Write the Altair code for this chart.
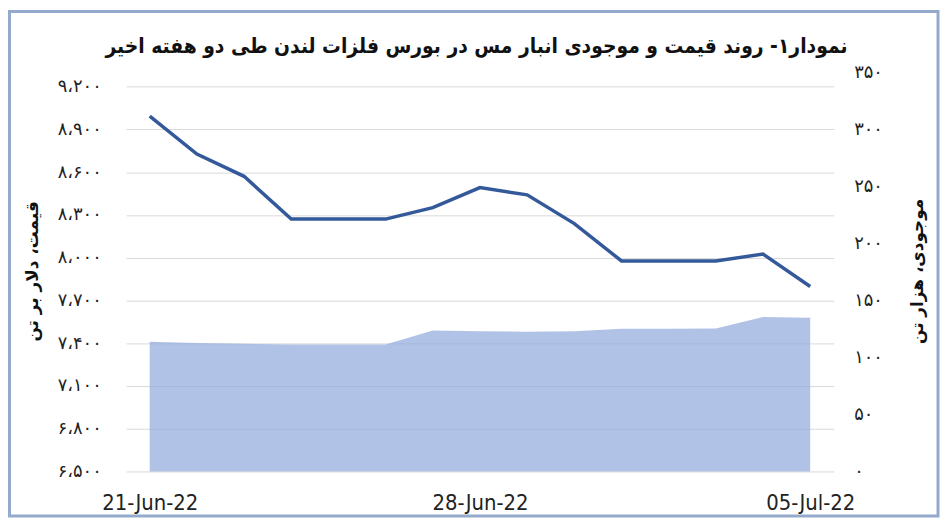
import altair as alt
import pandas as pd

# ---- data ----
dates = ["21-Jun-22", "22-Jun-22", "23-Jun-22", "24-Jun-22", "25-Jun-22",
         "26-Jun-22", "27-Jun-22", "28-Jun-22", "29-Jun-22", "30-Jun-22",
         "01-Jul-22", "02-Jul-22", "03-Jul-22", "04-Jul-22", "05-Jul-22"]
price = [8994, 8727, 8571, 8271, 8271, 8271, 8351, 8492, 8441, 8239,
         7977, 7977, 7977, 8025, 7798]
stock = [113.8, 112.7, 112.0, 111.4, 111.4, 111.4, 123.6, 123.0, 122.5, 123.0,
         125.1, 125.1, 125.4, 135.5, 134.9]

x_tick_labels = ["21-Jun-22", "28-Jun-22", "05-Jul-22"]
price_ticks = [6500, 6800, 7100, 7400, 7700, 8000, 8300, 8600, 8900, 9200]
stock_ticks = [0, 50, 100, 150, 200, 250, 300, 350]

title_text = "نمودار۱- روند قیمت و موجودی انبار مس در بورس فلزات لندن طی دو هفته اخیر"
left_title = "قیمت، دلار بر تن"
right_title = "موجودی، هزار تن"

df = pd.DataFrame({"date": dates, "price": price, "stock": stock})


def fa_digits_expr(src):
    e = f"replace({src}, regexp(',', 'g'), '،')"
    for d, fa in zip("0123456789", "۰۱۲۳۴۵۶۷۸۹"):
        e = f"replace({e}, regexp('{d}', 'g'), '{fa}')"
    return e


FA = "DejaVu Sans"
FA_TITLE = "DejaVu Sans Condensed, DejaVu Sans"
LAT = "Liberation Sans Narrow, DejaVu Sans Condensed, Lato, sans-serif"

x_enc = alt.X(
    "date:N", sort=dates, title=None,
    scale=alt.Scale(type="point", padding=0.5),
    axis=alt.Axis(values=x_tick_labels, labelAngle=0, ticks=False, domain=False,
                  grid=False, labelFont=LAT, labelFontSize=22, labelColor="#222222",
                  labelPadding=21),
)

area = alt.Chart(df).mark_area(color="#8FA9DC", opacity=0.7).encode(
    x=x_enc,
    y=alt.Y("stock:Q", scale=alt.Scale(domain=[0, 350], nice=False, zero=True),
            axis=alt.Axis(orient="right", values=stock_ticks, grid=False, ticks=False,
                          domain=False, labelFont=FA, labelFontSize=18,
                          labelColor="#222222", labelPadding=20,
                          labelExpr=fa_digits_expr("format(datum.value, ',')"),
                          title=right_title, titleFont=FA, titleFontSize=17,
                          titleFontWeight="bold", titleColor="#111111",
                          titleAngle=270, titleAlign="center", titleBaseline="middle",
                          titleX=84, titleY=200)),
)

line = alt.Chart(df).mark_line(color="#34599A", strokeWidth=3.5).encode(
    x=x_enc,
    y=alt.Y("price:Q", scale=alt.Scale(domain=[6500, 9300], nice=False, zero=False),
            axis=alt.Axis(orient="left", values=price_ticks, grid=True,
                          gridColor="#D9D9D9", gridWidth=1, ticks=False, domain=False,
                          labelFont=FA, labelFontSize=18, labelColor="#222222",
                          labelPadding=25,
                          labelExpr=fa_digits_expr("format(datum.value, ',')"),
                          title=left_title, titleFont=FA, titleFontSize=17,
                          titleFontWeight="bold", titleColor="#111111",
                          titleAngle=270, titleAlign="center", titleBaseline="middle",
                          titleX=-94, titleY=200)),
)

border = alt.Chart(pd.DataFrame({"k": [0]})).mark_rect(
    filled=False, stroke="#94AACC", strokeWidth=3
).encode(
    x=alt.value(-117.5), x2=alt.value(818), y=alt.value(-61.5), y2=alt.value(447)
)

title = alt.Chart(pd.DataFrame({"t": [title_text]})).mark_text(
    font=FA_TITLE, fontSize=21, fontWeight="bold", color="#111111",
    align="center", baseline="middle"
).encode(text="t:N", x=alt.value(353), y=alt.value(-26))

chart = alt.layer(area, line, border, title).resolve_scale(y="independent").properties(
    width=713, height=402,
    autosize=alt.AutoSizeParams(type="none"),
    padding={"left": 119, "top": 63, "right": 107, "bottom": 47},
    background="white",
).configure_view(strokeWidth=0)

chart.save("out.html", embed_options={"renderer": "svg", "actions": False})
